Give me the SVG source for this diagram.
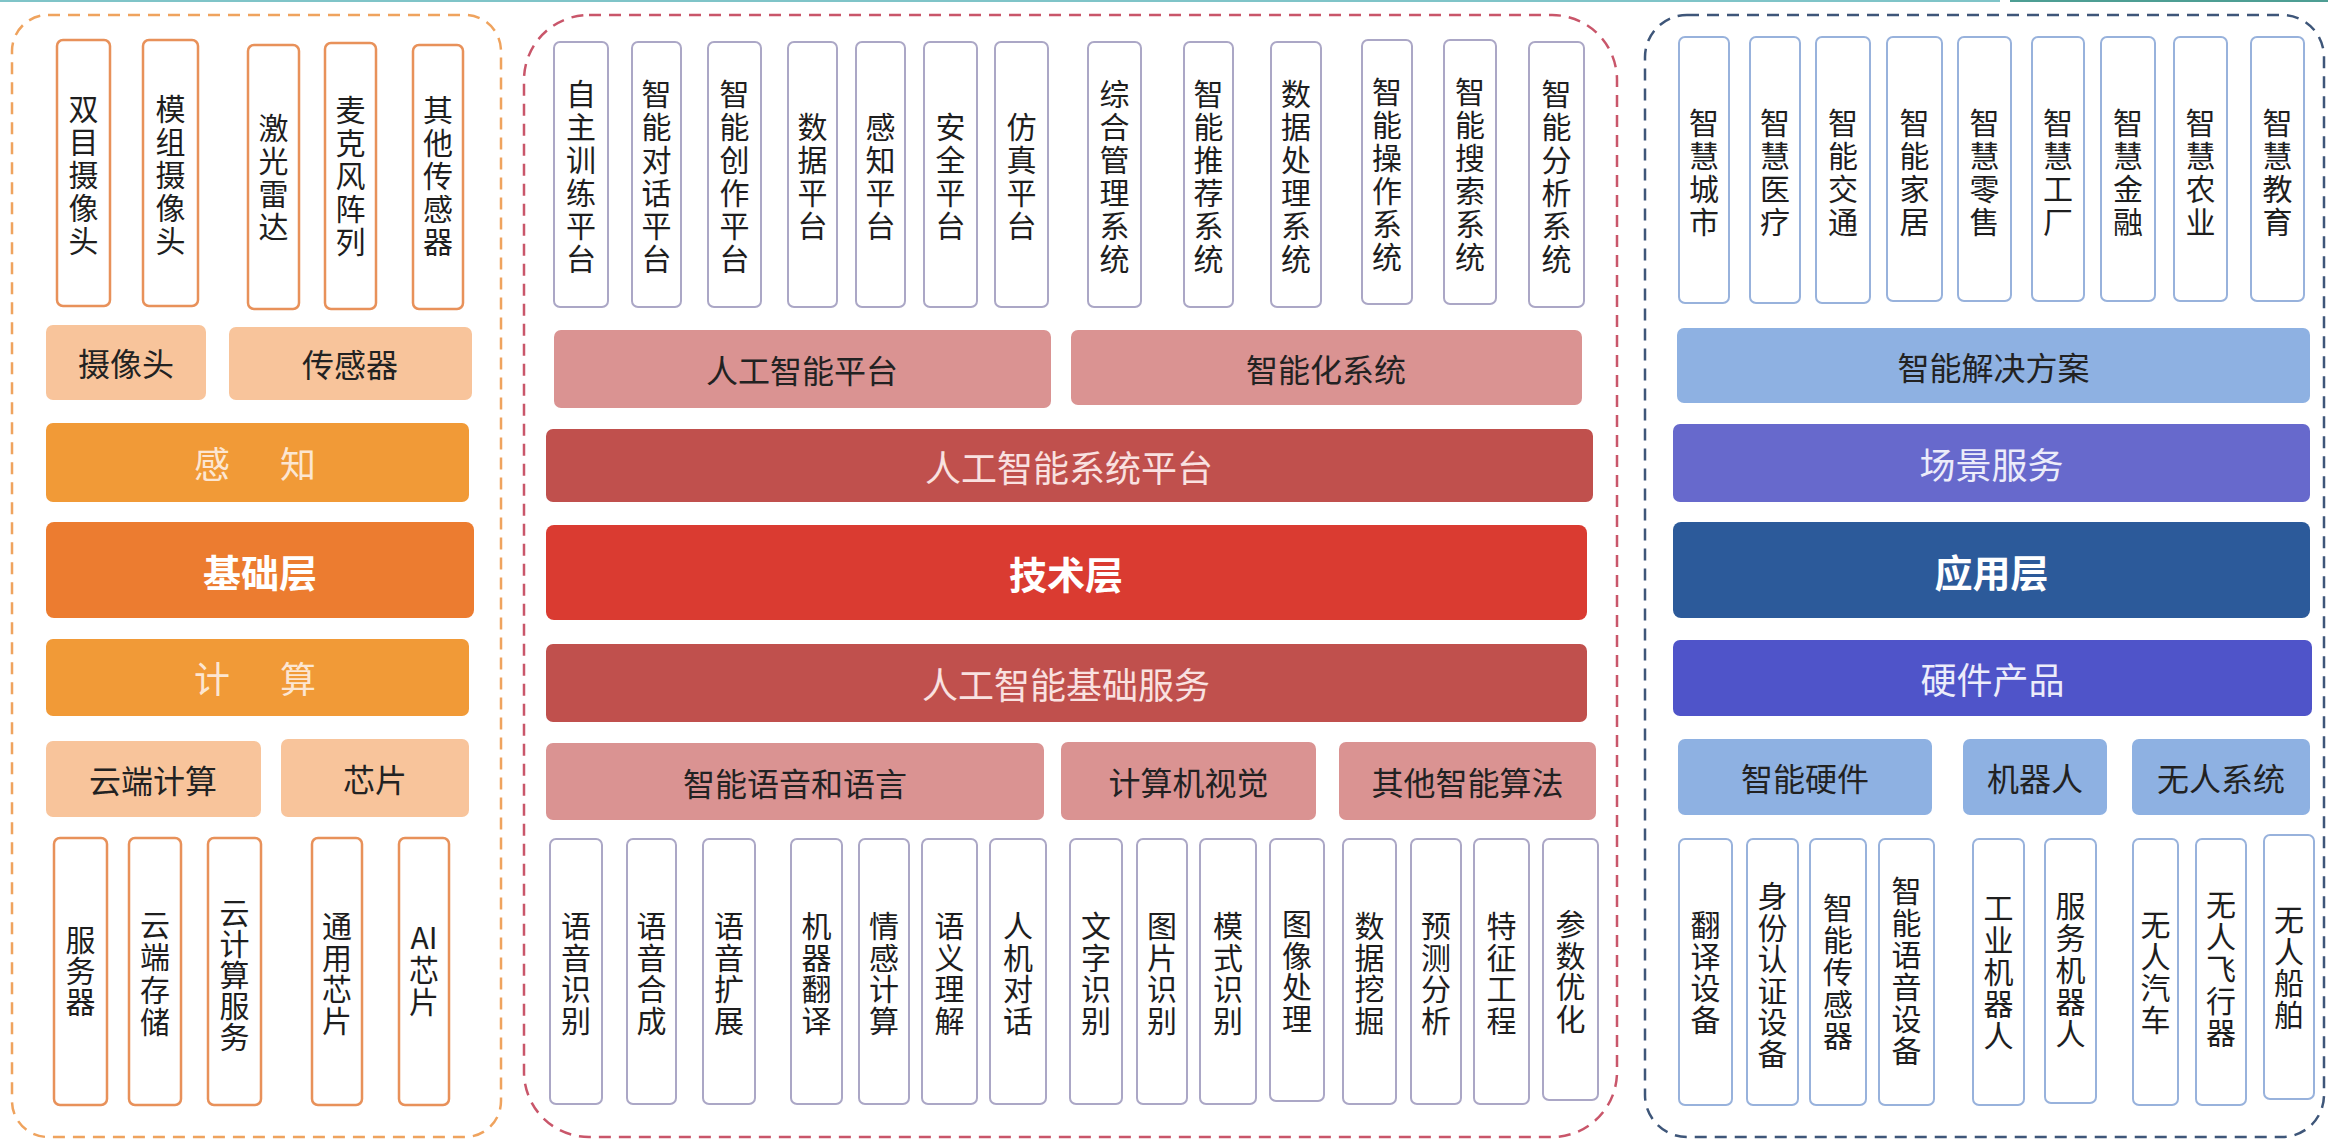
<svg xmlns="http://www.w3.org/2000/svg" width="2328" height="1142" viewBox="0 0 2328 1142">
<style>
text, tspan { font-family: "Noto Sans CJK SC", "Noto Sans", sans-serif; dominant-baseline: central; text-anchor: middle; }
.cl { fill: none; stroke: #EFA35E; stroke-width: 2.5; stroke-dasharray: 12 8; }
.cm { fill: none; stroke: #C9566A; stroke-width: 2.5; stroke-dasharray: 12 8; }
.cr { fill: none; stroke: #3E5679; stroke-width: 2.5; stroke-dasharray: 12 8; }
.bo { fill: #fff; stroke: #E8915A; stroke-width: 2.5; }
.bm { fill: #fff; stroke: #ABA7C6; stroke-width: 2; }
.bb { fill: #fff; stroke: #98B2DC; stroke-width: 2; }
.vt { font-size: 30px; fill: #1e1e1e; }
.ht { font-size: 32px; fill: #222; }
.lt { font-size: 36px; }
.bt { font-size: 38px; font-weight: bold; fill: #fff; }
.peach { fill: #F8C49B; }
.orng { fill: #F19A37; }
.deep { fill: #EC7C30; }
.pink { fill: #DA9392; }
.dred { fill: #C0504D; }
.red { fill: #DA3B31; }
.lblue { fill: #8EB1E2; }
.purp { fill: #6769CC; }
.dblue { fill: #2C5A9A; }
.vio { fill: #4F54C9; }
</style>

<line x1="0" y1="1" x2="2000" y2="1" stroke="#7FC4C8" stroke-width="2"/>
<line x1="2010" y1="1" x2="2328" y2="1" stroke="#4E9E94" stroke-width="2"/>

<!-- containers -->
<g id="containers">
<rect class="cl" x="12" y="15" width="489" height="1122" rx="36"/>
<rect class="cm" x="524" y="15" width="1093" height="1122" rx="65"/>
<rect class="cr" x="1645" y="15" width="679" height="1122" rx="42"/>
</g>

<g id="connectors"></g>

<!-- LEFT: 基础层 -->
<g id="left-top">
<g id="n-shuangmu"><rect class="bo" x="57" y="40" width="53" height="266" rx="6"/>
<text class="vt"><tspan x="83.5" y="107">双</tspan><tspan x="83.5" y="140">目</tspan><tspan x="83.5" y="173">摄</tspan><tspan x="83.5" y="206">像</tspan><tspan x="83.5" y="239">头</tspan></text></g>
<g id="n-mozu"><rect class="bo" x="143" y="40" width="55" height="266" rx="6"/>
<text class="vt"><tspan x="170.5" y="107">模</tspan><tspan x="170.5" y="140">组</tspan><tspan x="170.5" y="173">摄</tspan><tspan x="170.5" y="206">像</tspan><tspan x="170.5" y="239">头</tspan></text></g>
<g id="n-jiguang"><rect class="bo" x="248" y="45" width="51" height="264" rx="6"/>
<text class="vt"><tspan x="273.5" y="126">激</tspan><tspan x="273.5" y="159">光</tspan><tspan x="273.5" y="192">雷</tspan><tspan x="273.5" y="225">达</tspan></text></g>
<g id="n-maike"><rect class="bo" x="325" y="43" width="51" height="266" rx="6"/>
<text class="vt"><tspan x="350.5" y="108">麦</tspan><tspan x="350.5" y="141">克</tspan><tspan x="350.5" y="174">风</tspan><tspan x="350.5" y="207">阵</tspan><tspan x="350.5" y="240">列</tspan></text></g>
<g id="n-qita"><rect class="bo" x="413" y="45" width="50" height="264" rx="6"/>
<text class="vt"><tspan x="438" y="108">其</tspan><tspan x="438" y="141">他</tspan><tspan x="438" y="174">传</tspan><tspan x="438" y="207">感</tspan><tspan x="438" y="240">器</tspan></text></g>
</g>

<g id="n-shexiangtou"><rect class="peach" x="46" y="325" width="160" height="75" rx="7"/><text class="ht" x="126" y="362">摄像头</text></g>
<g id="n-chuanganqi"><rect class="peach" x="229" y="327" width="243" height="73" rx="7"/><text class="ht" x="350" y="363">传感器</text></g>
<g id="n-ganzhi"><rect class="orng" x="46" y="423" width="423" height="79" rx="7"/><text class="lt" fill="#FCE6D2" x="212" y="462">感</text><text class="lt" fill="#FCE6D2" x="298" y="462">知</text></g>
<g id="n-jichuceng"><rect class="deep" x="46" y="522" width="428" height="96" rx="8"/><text class="bt" x="260" y="570">基础层</text></g>
<g id="n-jisuan"><rect class="orng" x="46" y="639" width="423" height="77" rx="7"/><text class="lt" fill="#FCE6D2" x="212" y="677">计</text><text class="lt" fill="#FCE6D2" x="298" y="677">算</text></g>
<g id="n-yunduan"><rect class="peach" x="46" y="741" width="215" height="76" rx="7"/><text class="ht" x="153" y="779">云端计算</text></g>
<g id="n-xinpian"><rect class="peach" x="281" y="739" width="188" height="78" rx="7"/><text class="ht" x="375" y="778">芯片</text></g>

<g id="left-bottom">
<g id="n-fuwuqi"><rect class="bo" x="54" y="838" width="53" height="267" rx="6"/>
<text class="vt"><tspan x="80.5" y="938">服</tspan><tspan x="80.5" y="969">务</tspan><tspan x="80.5" y="1000">器</tspan></text></g>
<g id="n-yunduancc"><rect class="bo" x="129" y="838" width="52" height="267" rx="6"/>
<text class="vt"><tspan x="155" y="923">云</tspan><tspan x="155" y="955">端</tspan><tspan x="155" y="988">存</tspan><tspan x="155" y="1020">储</tspan></text></g>
<g id="n-yunjisuanfw"><rect class="bo" x="208" y="838" width="53" height="267" rx="6"/>
<text class="vt"><tspan x="234.5" y="911">云</tspan><tspan x="234.5" y="942">计</tspan><tspan x="234.5" y="973">算</tspan><tspan x="234.5" y="1004">服</tspan><tspan x="234.5" y="1035">务</tspan></text></g>
<g id="n-tongyong"><rect class="bo" x="312" y="838" width="50" height="267" rx="6"/>
<text class="vt"><tspan x="337" y="924">通</tspan><tspan x="337" y="955.5">用</tspan><tspan x="337" y="987">芯</tspan><tspan x="337" y="1018.5">片</tspan></text></g>
<g id="n-aixinpian"><rect class="bo" x="399" y="838" width="50" height="267" rx="6"/>
<text class="vt"><tspan x="424" y="936">AI</tspan><tspan x="424" y="968">芯</tspan><tspan x="424" y="1000">片</tspan></text></g>
</g>

<!-- MIDDLE: 技术层 -->
<g id="mid-top">
<g id="n-zizhu"><rect class="bm" x="554" y="42" width="54" height="265" rx="6"/>
<text class="vt"><tspan x="581" y="92">自</tspan><tspan x="581" y="125">主</tspan><tspan x="581" y="158">训</tspan><tspan x="581" y="191">练</tspan><tspan x="581" y="224">平</tspan><tspan x="581" y="257">台</tspan></text></g>
<g id="n-duihua"><rect class="bm" x="632" y="42" width="49" height="265" rx="6"/>
<text class="vt"><tspan x="656.5" y="92">智</tspan><tspan x="656.5" y="125">能</tspan><tspan x="656.5" y="158">对</tspan><tspan x="656.5" y="191">话</tspan><tspan x="656.5" y="224">平</tspan><tspan x="656.5" y="257">台</tspan></text></g>
<g id="n-chuangzuo"><rect class="bm" x="708" y="42" width="53" height="265" rx="6"/>
<text class="vt"><tspan x="734.5" y="92">智</tspan><tspan x="734.5" y="125">能</tspan><tspan x="734.5" y="158">创</tspan><tspan x="734.5" y="191">作</tspan><tspan x="734.5" y="224">平</tspan><tspan x="734.5" y="257">台</tspan></text></g>
<g id="n-shuju"><rect class="bm" x="788" y="42" width="49" height="265" rx="6"/>
<text class="vt"><tspan x="812.5" y="125">数</tspan><tspan x="812.5" y="158">据</tspan><tspan x="812.5" y="191">平</tspan><tspan x="812.5" y="224">台</tspan></text></g>
<g id="n-ganzhipt"><rect class="bm" x="856" y="42" width="49" height="265" rx="6"/>
<text class="vt"><tspan x="880.5" y="125">感</tspan><tspan x="880.5" y="158">知</tspan><tspan x="880.5" y="191">平</tspan><tspan x="880.5" y="224">台</tspan></text></g>
<g id="n-anquan"><rect class="bm" x="924" y="42" width="53" height="265" rx="6"/>
<text class="vt"><tspan x="950.5" y="125">安</tspan><tspan x="950.5" y="158">全</tspan><tspan x="950.5" y="191">平</tspan><tspan x="950.5" y="224">台</tspan></text></g>
<g id="n-fangzhen"><rect class="bm" x="995" y="42" width="53" height="265" rx="6"/>
<text class="vt"><tspan x="1021.5" y="125">仿</tspan><tspan x="1021.5" y="158">真</tspan><tspan x="1021.5" y="191">平</tspan><tspan x="1021.5" y="224">台</tspan></text></g>
<g id="n-zonghe"><rect class="bm" x="1088" y="42" width="53" height="265" rx="6"/>
<text class="vt"><tspan x="1114.5" y="92">综</tspan><tspan x="1114.5" y="125">合</tspan><tspan x="1114.5" y="158">管</tspan><tspan x="1114.5" y="191">理</tspan><tspan x="1114.5" y="224">系</tspan><tspan x="1114.5" y="257">统</tspan></text></g>
<g id="n-tuijian"><rect class="bm" x="1184" y="42" width="49" height="265" rx="6"/>
<text class="vt"><tspan x="1208.5" y="92">智</tspan><tspan x="1208.5" y="125">能</tspan><tspan x="1208.5" y="158">推</tspan><tspan x="1208.5" y="191">荐</tspan><tspan x="1208.5" y="224">系</tspan><tspan x="1208.5" y="257">统</tspan></text></g>
<g id="n-shujuchuli"><rect class="bm" x="1271" y="42" width="50" height="265" rx="6"/>
<text class="vt"><tspan x="1296" y="92">数</tspan><tspan x="1296" y="125">据</tspan><tspan x="1296" y="158">处</tspan><tspan x="1296" y="191">理</tspan><tspan x="1296" y="224">系</tspan><tspan x="1296" y="257">统</tspan></text></g>
<g id="n-caozuo"><rect class="bm" x="1362" y="40" width="50" height="264" rx="6"/>
<text class="vt"><tspan x="1387" y="90">智</tspan><tspan x="1387" y="123">能</tspan><tspan x="1387" y="156">操</tspan><tspan x="1387" y="189">作</tspan><tspan x="1387" y="222">系</tspan><tspan x="1387" y="255">统</tspan></text></g>
<g id="n-sousuo"><rect class="bm" x="1444" y="40" width="52" height="264" rx="6"/>
<text class="vt"><tspan x="1470" y="90">智</tspan><tspan x="1470" y="123">能</tspan><tspan x="1470" y="156">搜</tspan><tspan x="1470" y="189">索</tspan><tspan x="1470" y="222">系</tspan><tspan x="1470" y="255">统</tspan></text></g>
<g id="n-fenxi"><rect class="bm" x="1529" y="42" width="55" height="265" rx="6"/>
<text class="vt"><tspan x="1556.5" y="92">智</tspan><tspan x="1556.5" y="125">能</tspan><tspan x="1556.5" y="158">分</tspan><tspan x="1556.5" y="191">析</tspan><tspan x="1556.5" y="224">系</tspan><tspan x="1556.5" y="257">统</tspan></text></g>
</g>

<g id="n-aipt"><rect class="pink" x="554" y="330" width="497" height="78" rx="7"/><text class="ht" x="802" y="369">人工智能平台</text></g>
<g id="n-znhxt"><rect class="pink" x="1071" y="330" width="511" height="75" rx="7"/><text class="ht" x="1326" y="368">智能化系统</text></g>
<g id="n-aisyspt"><rect class="dred" x="546" y="429" width="1047" height="73" rx="7"/><text class="lt" fill="#F9E1E0" x="1069" y="465.5">人工智能系统平台</text></g>
<g id="n-jishuceng"><rect class="red" x="546" y="525" width="1041" height="95" rx="8"/><text class="bt" x="1066" y="572.5">技术层</text></g>
<g id="n-aijichu"><rect class="dred" x="546" y="644" width="1041" height="78" rx="7"/><text class="lt" fill="#F9E1E0" x="1066" y="683">人工智能基础服务</text></g>
<g id="n-yuyin"><rect class="pink" x="546" y="743" width="498" height="77" rx="7"/><text class="ht" x="795" y="781.5">智能语音和语言</text></g>
<g id="n-shijue"><rect class="pink" x="1061" y="742" width="255" height="78" rx="7"/><text class="ht" x="1188.5" y="781">计算机视觉</text></g>
<g id="n-qitasf"><rect class="pink" x="1339" y="742" width="257" height="78" rx="7"/><text class="ht" x="1467.5" y="781">其他智能算法</text></g>

<g id="mid-bottom">
<g id="n-yysb"><rect class="bm" x="550" y="839" width="52" height="265" rx="6"/>
<text class="vt"><tspan x="576" y="924">语</tspan><tspan x="576" y="955.5">音</tspan><tspan x="576" y="987">识</tspan><tspan x="576" y="1018.5">别</tspan></text></g>
<g id="n-yyhc"><rect class="bm" x="627" y="839" width="49" height="265" rx="6"/>
<text class="vt"><tspan x="651.5" y="924">语</tspan><tspan x="651.5" y="955.5">音</tspan><tspan x="651.5" y="987">合</tspan><tspan x="651.5" y="1018.5">成</tspan></text></g>
<g id="n-yykz"><rect class="bm" x="703" y="839" width="52" height="265" rx="6"/>
<text class="vt"><tspan x="729" y="924">语</tspan><tspan x="729" y="955.5">音</tspan><tspan x="729" y="987">扩</tspan><tspan x="729" y="1018.5">展</tspan></text></g>
<g id="n-jqfy"><rect class="bm" x="791" y="839" width="51" height="265" rx="6"/>
<text class="vt"><tspan x="816.5" y="924">机</tspan><tspan x="816.5" y="955.5">器</tspan><tspan x="816.5" y="987">翻</tspan><tspan x="816.5" y="1018.5">译</tspan></text></g>
<g id="n-qgjs"><rect class="bm" x="859" y="839" width="50" height="265" rx="6"/>
<text class="vt"><tspan x="884" y="924">情</tspan><tspan x="884" y="955.5">感</tspan><tspan x="884" y="987">计</tspan><tspan x="884" y="1018.5">算</tspan></text></g>
<g id="n-yylj"><rect class="bm" x="922" y="839" width="55" height="265" rx="6"/>
<text class="vt"><tspan x="949.5" y="924">语</tspan><tspan x="949.5" y="955.5">义</tspan><tspan x="949.5" y="987">理</tspan><tspan x="949.5" y="1018.5">解</tspan></text></g>
<g id="n-rjdh"><rect class="bm" x="990" y="839" width="56" height="265" rx="6"/>
<text class="vt"><tspan x="1018" y="924">人</tspan><tspan x="1018" y="955.5">机</tspan><tspan x="1018" y="987">对</tspan><tspan x="1018" y="1018.5">话</tspan></text></g>
<g id="n-wzsb"><rect class="bm" x="1070" y="839" width="52" height="265" rx="6"/>
<text class="vt"><tspan x="1096" y="924">文</tspan><tspan x="1096" y="955.5">字</tspan><tspan x="1096" y="987">识</tspan><tspan x="1096" y="1018.5">别</tspan></text></g>
<g id="n-tpsb"><rect class="bm" x="1137" y="839" width="50" height="265" rx="6"/>
<text class="vt"><tspan x="1162" y="924">图</tspan><tspan x="1162" y="955.5">片</tspan><tspan x="1162" y="987">识</tspan><tspan x="1162" y="1018.5">别</tspan></text></g>
<g id="n-mssb"><rect class="bm" x="1200" y="839" width="56" height="265" rx="6"/>
<text class="vt"><tspan x="1228" y="924">模</tspan><tspan x="1228" y="955.5">式</tspan><tspan x="1228" y="987">识</tspan><tspan x="1228" y="1018.5">别</tspan></text></g>
<g id="n-txcl"><rect class="bm" x="1270" y="839" width="54" height="262" rx="6"/>
<text class="vt"><tspan x="1297" y="922">图</tspan><tspan x="1297" y="953.5">像</tspan><tspan x="1297" y="985">处</tspan><tspan x="1297" y="1016.5">理</tspan></text></g>
<g id="n-sjwj"><rect class="bm" x="1343" y="839" width="53" height="265" rx="6"/>
<text class="vt"><tspan x="1369.5" y="924">数</tspan><tspan x="1369.5" y="955.5">据</tspan><tspan x="1369.5" y="987">挖</tspan><tspan x="1369.5" y="1018.5">掘</tspan></text></g>
<g id="n-ycfx"><rect class="bm" x="1411" y="839" width="50" height="265" rx="6"/>
<text class="vt"><tspan x="1436" y="924">预</tspan><tspan x="1436" y="955.5">测</tspan><tspan x="1436" y="987">分</tspan><tspan x="1436" y="1018.5">析</tspan></text></g>
<g id="n-tzgc"><rect class="bm" x="1474" y="839" width="55" height="265" rx="6"/>
<text class="vt"><tspan x="1501.5" y="924">特</tspan><tspan x="1501.5" y="955.5">征</tspan><tspan x="1501.5" y="987">工</tspan><tspan x="1501.5" y="1018.5">程</tspan></text></g>
<g id="n-csyh"><rect class="bm" x="1543" y="839" width="55" height="261" rx="6"/>
<text class="vt"><tspan x="1570.5" y="922">参</tspan><tspan x="1570.5" y="953.5">数</tspan><tspan x="1570.5" y="985">优</tspan><tspan x="1570.5" y="1016.5">化</tspan></text></g>
</g>

<!-- RIGHT: 应用层 -->
<g id="right-top">
<g id="n-chengshi"><rect class="bb" x="1679" y="37" width="50" height="266" rx="6"/>
<text class="vt"><tspan x="1704" y="120.5">智</tspan><tspan x="1704" y="153.5">慧</tspan><tspan x="1704" y="186.5">城</tspan><tspan x="1704" y="219.5">市</tspan></text></g>
<g id="n-yiliao"><rect class="bb" x="1750" y="37" width="50" height="266" rx="6"/>
<text class="vt"><tspan x="1775" y="120.5">智</tspan><tspan x="1775" y="153.5">慧</tspan><tspan x="1775" y="186.5">医</tspan><tspan x="1775" y="219.5">疗</tspan></text></g>
<g id="n-jiaotong"><rect class="bb" x="1816" y="37" width="54" height="266" rx="6"/>
<text class="vt"><tspan x="1843" y="120.5">智</tspan><tspan x="1843" y="153.5">能</tspan><tspan x="1843" y="186.5">交</tspan><tspan x="1843" y="219.5">通</tspan></text></g>
<g id="n-jiaju"><rect class="bb" x="1887" y="37" width="55" height="264" rx="6"/>
<text class="vt"><tspan x="1914.5" y="120.5">智</tspan><tspan x="1914.5" y="153.5">能</tspan><tspan x="1914.5" y="186.5">家</tspan><tspan x="1914.5" y="219.5">居</tspan></text></g>
<g id="n-lingshou"><rect class="bb" x="1958" y="37" width="53" height="264" rx="6"/>
<text class="vt"><tspan x="1984.5" y="120.5">智</tspan><tspan x="1984.5" y="153.5">慧</tspan><tspan x="1984.5" y="186.5">零</tspan><tspan x="1984.5" y="219.5">售</tspan></text></g>
<g id="n-gongchang"><rect class="bb" x="2032" y="37" width="52" height="264" rx="6"/>
<text class="vt"><tspan x="2058" y="120.5">智</tspan><tspan x="2058" y="153.5">慧</tspan><tspan x="2058" y="186.5">工</tspan><tspan x="2058" y="219.5">厂</tspan></text></g>
<g id="n-jinrong"><rect class="bb" x="2101" y="37" width="54" height="264" rx="6"/>
<text class="vt"><tspan x="2128" y="120.5">智</tspan><tspan x="2128" y="153.5">慧</tspan><tspan x="2128" y="186.5">金</tspan><tspan x="2128" y="219.5">融</tspan></text></g>
<g id="n-nongye"><rect class="bb" x="2174" y="37" width="53" height="264" rx="6"/>
<text class="vt"><tspan x="2200.5" y="120.5">智</tspan><tspan x="2200.5" y="153.5">慧</tspan><tspan x="2200.5" y="186.5">农</tspan><tspan x="2200.5" y="219.5">业</tspan></text></g>
<g id="n-jiaoyu"><rect class="bb" x="2251" y="37" width="53" height="264" rx="6"/>
<text class="vt"><tspan x="2277.5" y="120.5">智</tspan><tspan x="2277.5" y="153.5">慧</tspan><tspan x="2277.5" y="186.5">教</tspan><tspan x="2277.5" y="219.5">育</tspan></text></g>
</g>

<g id="n-jiejue"><rect class="lblue" x="1677" y="328" width="633" height="75" rx="7"/><text class="ht" fill="#1F2B44" x="1993.5" y="365.5">智能解决方案</text></g>
<g id="n-changjing"><rect class="purp" x="1673" y="424" width="637" height="78" rx="7"/><text class="lt" fill="#ECECFA" x="1991.5" y="463">场景服务</text></g>
<g id="n-yingyong"><rect class="dblue" x="1673" y="522" width="637" height="96" rx="8"/><text class="bt" x="1991.5" y="570">应用层</text></g>
<g id="n-yingjian"><rect class="vio" x="1673" y="640" width="639" height="76" rx="7"/><text class="lt" fill="#ECECFA" x="1992.5" y="678">硬件产品</text></g>
<g id="n-znyj"><rect class="lblue" x="1678" y="739" width="254" height="76" rx="7"/><text class="ht" fill="#1F2B44" x="1805" y="777">智能硬件</text></g>
<g id="n-jqr"><rect class="lblue" x="1963" y="739" width="144" height="76" rx="7"/><text class="ht" fill="#1F2B44" x="2035" y="777">机器人</text></g>
<g id="n-wrxt"><rect class="lblue" x="2132" y="739" width="178" height="76" rx="7"/><text class="ht" fill="#1F2B44" x="2221" y="777">无人系统</text></g>

<g id="right-bottom">
<g id="n-fanyi"><rect class="bb" x="1679" y="839" width="53" height="266" rx="6"/>
<text class="vt"><tspan x="1705.5" y="923">翻</tspan><tspan x="1705.5" y="954.5">译</tspan><tspan x="1705.5" y="986">设</tspan><tspan x="1705.5" y="1017.5">备</tspan></text></g>
<g id="n-shenfen"><rect class="bb" x="1747" y="839" width="51" height="266" rx="6"/>
<text class="vt"><tspan x="1772.5" y="894">身</tspan><tspan x="1772.5" y="925.5">份</tspan><tspan x="1772.5" y="957">认</tspan><tspan x="1772.5" y="988.5">证</tspan><tspan x="1772.5" y="1020">设</tspan><tspan x="1772.5" y="1051.5">备</tspan></text></g>
<g id="n-zncgq"><rect class="bb" x="1810" y="839" width="56" height="266" rx="6"/>
<text class="vt"><tspan x="1838" y="906">智</tspan><tspan x="1838" y="938">能</tspan><tspan x="1838" y="970">传</tspan><tspan x="1838" y="1002">感</tspan><tspan x="1838" y="1034">器</tspan></text></g>
<g id="n-znyysb"><rect class="bb" x="1879" y="839" width="55" height="266" rx="6"/>
<text class="vt"><tspan x="1906.5" y="889">智</tspan><tspan x="1906.5" y="921">能</tspan><tspan x="1906.5" y="953">语</tspan><tspan x="1906.5" y="985">音</tspan><tspan x="1906.5" y="1017">设</tspan><tspan x="1906.5" y="1049">备</tspan></text></g>
<g id="n-gyjqr"><rect class="bb" x="1973" y="839" width="51" height="266" rx="6"/>
<text class="vt"><tspan x="1998.5" y="906">工</tspan><tspan x="1998.5" y="938">业</tspan><tspan x="1998.5" y="970">机</tspan><tspan x="1998.5" y="1002">器</tspan><tspan x="1998.5" y="1034">人</tspan></text></g>
<g id="n-fwjqr"><rect class="bb" x="2045" y="839" width="51" height="264" rx="6"/>
<text class="vt"><tspan x="2070.5" y="904">服</tspan><tspan x="2070.5" y="936">务</tspan><tspan x="2070.5" y="968">机</tspan><tspan x="2070.5" y="1000">器</tspan><tspan x="2070.5" y="1032">人</tspan></text></g>
<g id="n-wrqc"><rect class="bb" x="2133" y="839" width="45" height="266" rx="6"/>
<text class="vt"><tspan x="2155.5" y="923">无</tspan><tspan x="2155.5" y="954.5">人</tspan><tspan x="2155.5" y="986">汽</tspan><tspan x="2155.5" y="1017.5">车</tspan></text></g>
<g id="n-wrfxq"><rect class="bb" x="2196" y="839" width="50" height="266" rx="6"/>
<text class="vt"><tspan x="2221" y="903">无</tspan><tspan x="2221" y="935">人</tspan><tspan x="2221" y="967">飞</tspan><tspan x="2221" y="999">行</tspan><tspan x="2221" y="1031">器</tspan></text></g>
<g id="n-wrcb"><rect class="bb" x="2264" y="835" width="50" height="264" rx="6"/>
<text class="vt"><tspan x="2289" y="918">无</tspan><tspan x="2289" y="949.5">人</tspan><tspan x="2289" y="981">船</tspan><tspan x="2289" y="1012.5">舶</tspan></text></g>
</g>
</svg>
